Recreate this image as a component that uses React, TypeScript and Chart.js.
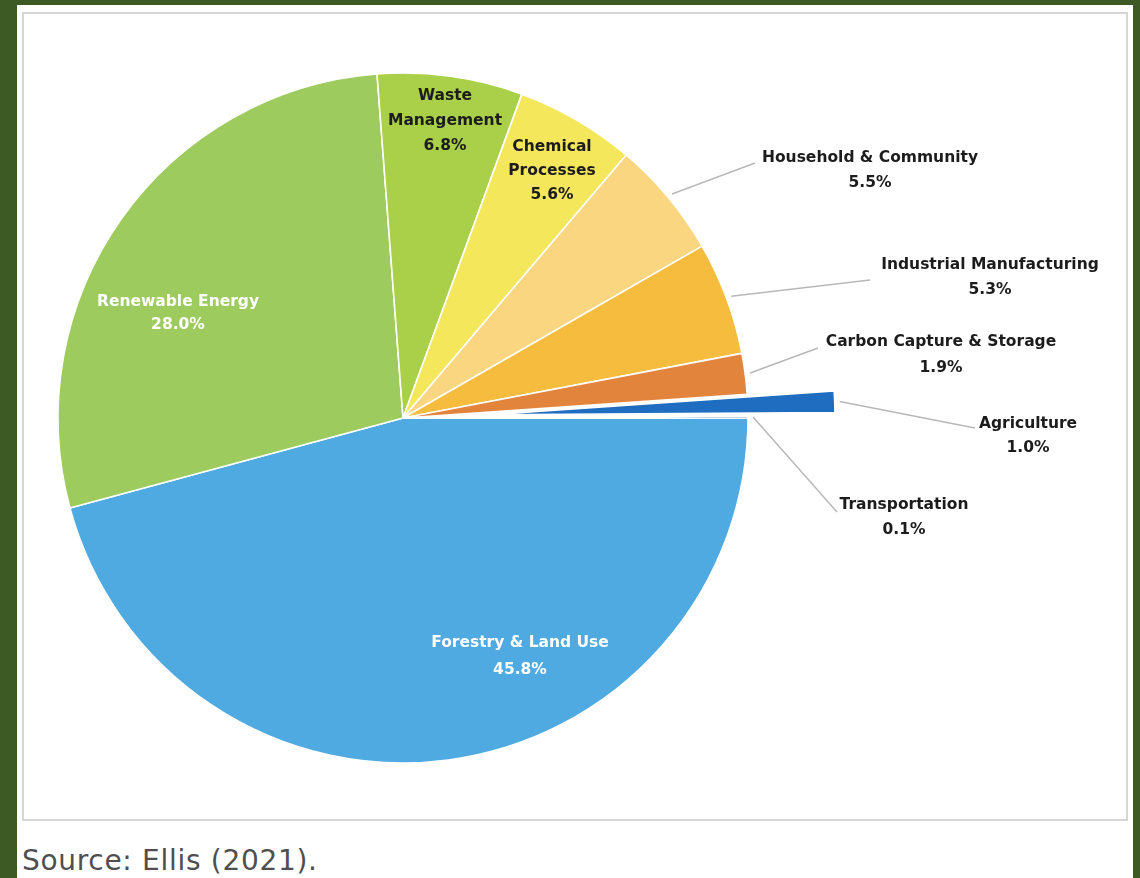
import React, { useEffect, useRef } from 'react';
import { Chart, registerables } from 'chart.js';

Chart.register(...registerables);

// ---- data ----
const categories = [
  'Forestry & Land Use',
  'Renewable Energy',
  'Waste Management',
  'Chemical Processes',
  'Household & Community',
  'Industrial Manufacturing',
  'Carbon Capture & Storage',
  'Agriculture',
  'Transportation',
];
const nameLines = [
  ['Forestry & Land Use'],
  ['Renewable Energy'],
  ['Waste', 'Management'],
  ['Chemical', 'Processes'],
  ['Household & Community'],
  ['Industrial Manufacturing'],
  ['Carbon Capture & Storage'],
  ['Agriculture'],
  ['Transportation'],
];
const shares = [45.8, 28.0, 6.8, 5.6, 5.5, 5.3, 1.9, 1.0, 0.1];
const sliceColors = [
  '#4faae1',
  '#9dcb5e',
  '#aacf48',
  '#f5e75c',
  '#f9d67f',
  '#f5bc3e',
  '#e3843d',
  '#1f6dc0',
  '#2a4f8f',
];

// ---- styling / layout ----
const W = 1140;
const H = 878;
const CX = 403;
const CY = 418;
const R = 345;
const EXPLODE = [0, 0, 0, 0, 0, 0, 0, 87, 0];
const LABEL_FONT = 'bold 15.5px "DejaVu Sans"';

type LabelStyle = { dx: number; dy: number; lh: number; color: string; end?: [number, number] };
const labelLayout: LabelStyle[] = [
  { dx: 117, dy: 225, lh: 27, color: '#ffffff' },
  { dx: -225, dy: -116, lh: 23, color: '#ffffff' },
  { dx: 42, dy: -322, lh: 25, color: '#1c1c1c' },
  { dx: 149, dy: -271, lh: 24, color: '#1c1c1c' },
  { dx: 467, dy: -260, lh: 25, color: '#1c1c1c', end: [352, -255] },
  { dx: 587, dy: -153, lh: 25, color: '#1c1c1c', end: [467, -138] },
  { dx: 538, dy: -76, lh: 26, color: '#1c1c1c', end: [415, -70] },
  { dx: 625, dy: 6, lh: 24, color: '#1c1c1c', end: [572, 10] },
  { dx: 501, dy: 87, lh: 25, color: '#1c1c1c', end: [434, 94] },
];

const explodePlugin = {
  id: 'explodeSlices',
  beforeDatasetDraw(chart: any) {
    const meta = chart.getDatasetMeta(0);
    meta.data.forEach((el: any, i: number) => {
      const d = EXPLODE[i];
      if (!d) return;
      const mid = (el.startAngle + el.endAngle) / 2;
      el.$ox = el.x;
      el.$oy = el.y;
      el.x = el.x + Math.cos(mid) * d;
      el.y = el.y + Math.sin(mid) * d;
    });
  },
  afterDatasetDraw(chart: any) {
    const meta = chart.getDatasetMeta(0);
    meta.data.forEach((el: any) => {
      if (el.$ox !== undefined) {
        el.x = el.$ox;
        el.y = el.$oy;
        delete el.$ox;
        delete el.$oy;
      }
    });
  },
};

const labelPlugin = {
  id: 'sliceLabels',
  afterDraw(chart: any) {
    const ctx = chart.ctx;
    const meta = chart.getDatasetMeta(0);
    ctx.save();
    meta.data.forEach((el: any, i: number) => {
      const st = labelLayout[i];
      const cx = el.x;
      const cy = el.y;
      if (st.end) {
        const mid = (el.startAngle + el.endAngle) / 2;
        const rr = el.outerRadius + 5 + EXPLODE[i];
        ctx.beginPath();
        ctx.moveTo(cx + Math.cos(mid) * rr, cy + Math.sin(mid) * rr);
        ctx.lineTo(cx + st.end[0], cy + st.end[1]);
        ctx.strokeStyle = '#b8b8b8';
        ctx.lineWidth = 1.5;
        ctx.stroke();
      }
      const lines = [...nameLines[i], shares[i].toFixed(1) + '%'];
      ctx.font = LABEL_FONT;
      ctx.fillStyle = st.color;
      ctx.textAlign = 'center';
      ctx.textBaseline = 'middle';
      lines.forEach((t, k) => {
        ctx.fillText(t, cx + st.dx, cy + st.dy + k * st.lh);
      });
    });
    ctx.restore();
  },
};

export default function App() {
  const canvasRef = useRef<HTMLCanvasElement | null>(null);

  useEffect(() => {
    const canvas = canvasRef.current;
    if (!canvas) return;
    const chart = new Chart(canvas, {
      type: 'pie',
      data: {
        labels: categories,
        datasets: [
          {
            data: shares,
            backgroundColor: sliceColors,
            borderColor: '#ffffff',
            borderWidth: 1.6,
            radius: R,
          } as any,
        ],
      },
      options: {
        responsive: false,
        animation: false,
        devicePixelRatio: 1,
        rotation: 90,
        layout: {
          padding: { left: 0, top: 0, right: W - 2 * CX, bottom: H - 2 * CY },
        },
        plugins: {
          legend: { display: false },
          tooltip: { enabled: false },
        },
        events: [],
      },
      plugins: [explodePlugin, labelPlugin],
    });
    return () => chart.destroy();
  }, []);

  return (
    <div style={{ position: 'fixed', left: 0, top: 0, width: W, height: H, background: '#3d5a24', overflow: 'hidden' }}>
      <div style={{ position: 'absolute', left: 17, top: 5, width: 1116, height: 873, background: '#ffffff' }} />
      <div
        style={{
          position: 'absolute',
          left: 22,
          top: 12,
          width: 1106,
          height: 809,
          border: '2px solid #d6d6d6',
          boxSizing: 'border-box',
        }}
      />
      <div
        style={{
          position: 'absolute',
          left: 22,
          top: 846,
          fontFamily: '"DejaVu Sans", sans-serif',
          fontSize: 28,
          lineHeight: '30px',
          letterSpacing: '0.7px',
          color: '#4f4f4f',
          whiteSpace: 'nowrap',
        }}
      >
        Source: Ellis (2021).
      </div>
      <canvas
        ref={canvasRef}
        width={W}
        height={H}
        style={{ position: 'absolute', left: 0, top: 0, width: W, height: H }}
      />
    </div>
  );
}
